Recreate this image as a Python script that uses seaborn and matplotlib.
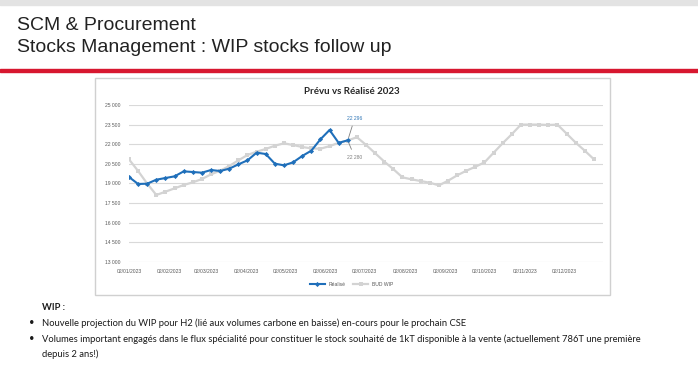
# Slide: SCM & Procurement - WIP stocks follow up (Prévu vs Réalisé 2023)

import pandas as pd
import seaborn as sns
import matplotlib.pyplot as plt
import matplotlib.dates as mdates
from matplotlib.ticker import FuncFormatter
from matplotlib.patches import Rectangle

# weekly BUD WIP (plan) and Réalisé (actual)
bud_wip = [20838, 19945, 18975, 18107, 18362, 18617, 18872, 19077, 19332, 19690,
           19970, 20328, 20762, 21170, 21426, 21630, 21885, 22064, 21936, 21783,
           21681, 21650, 21850, 22100, 22280, 22536, 21946, 21310, 20670, 20085,
           19460, 19306, 19176, 19046, 18847, 19200, 19613, 19965, 20270, 20608,
           21343, 22077, 22766, 23500, 23500, 23500, 23470, 23500, 22812, 22120,
           21500, 20847]
realise = [19485, 18950, 18975, 19281, 19409, 19536, 19919, 19868, 19817, 20021,
           19945, 20124, 20455, 20762, 21349, 21247, 20507, 20379, 20609, 21094,
           21502, 22370, 23085, 22100, 22296]
weeks = pd.date_range('2023-01-02', periods=len(bud_wip), freq='7D')
month_ticks = pd.date_range('2023-01-01', periods=12, freq='MS') + pd.Timedelta(days=1)
y_ticks = list(range(13000, 25001, 1500))

bud_df = pd.DataFrame({'date': weeks, 'value': bud_wip})
real_df = pd.DataFrame({'date': weeks[:len(realise)], 'value': realise})

W, H = 698, 372
fig = plt.figure(figsize=(W / 100, H / 100), dpi=100)

# slide decoration
fig.patches.append(Rectangle((0, 1 - 5 / H), 1, 5 / H, transform=fig.transFigure,
                             color='#e3e3e3', zorder=-5))
fig.patches.append(Rectangle((0, 1 - 72 / H), 1, 3 / H, transform=fig.transFigure,
                             color='#d7172f', zorder=-5))
fig.patches.append(Rectangle((95 / W, 1 - 295 / H), 515 / W, 217 / H,
                             transform=fig.transFigure, facecolor='white',
                             edgecolor='#d0d0d0', lw=1, zorder=-5))

fig.text(17 / W, 1 - 26 / H, 'SCM & Procurement', fontsize=14,
         family='Liberation Sans', color='#222222', va='center')
fig.text(17 / W, 1 - 47 / H, 'Stocks Management : WIP stocks follow up', fontsize=14,
         family='Liberation Sans', color='#222222', va='center')

# chart
ax = fig.add_axes([129 / W, 1 - 261.7 / H, 474 / W, 156.7 / H])
ax.set_zorder(2)
ax.patch.set_alpha(0)
sns.lineplot(data=bud_df, x='date', y='value', ax=ax, color='#d3d3d3', lw=1.6,
             marker='s', markersize=3, markeredgewidth=0, label='BUD WIP')
sns.lineplot(data=real_df, x='date', y='value', ax=ax, color='#1f6fba', lw=1.5,
             marker='D', markersize=2.6, markeredgewidth=0, label='Réalisé')

ax.set_ylim(13000, 25000)
ax.set_xlim(pd.Timestamp('2023-01-02'), pd.Timestamp('2024-01-01'))
ax.set_yticks(y_ticks)
ax.set_xticks(month_ticks)
ax.yaxis.set_major_formatter(FuncFormatter(lambda v, p: f'{int(v):,}'.replace(',', ' ')))
ax.xaxis.set_major_formatter(mdates.DateFormatter('%d/%m/%Y'))
ax.tick_params(length=0, labelsize=3.6, labelcolor='#595959')
ax.tick_params(axis='y', pad=6)
ax.tick_params(axis='x', pad=5)
for lab in ax.get_xticklabels() + ax.get_yticklabels():
    lab.set_family('Liberation Sans')
ax.grid(axis='y', color='#d9d9d9', lw=0.8)
ax.set_axisbelow(True)
for s in ax.spines.values():
    s.set_visible(False)
ax.set_xlabel('')
ax.set_ylabel('')

fig.text(352 / W, 1 - 91 / H, 'Prévu vs Réalisé 2023', fontsize=7, weight='bold',
         family='Lato', color='#262626', ha='center', va='center')

# data labels
last = weeks[len(realise) - 1]
ax.annotate('22 296', xy=(last, realise[-1]), xytext=(5, 16), textcoords='offset points',
            fontsize=3.6, color='#2e75b6', ha='center', va='center', family='Liberation Sans',
            arrowprops=dict(arrowstyle='-', color='#7f7f7f', lw=0.6))
ax.annotate('22 280', xy=(last, bud_wip[len(realise) - 1]), xytext=(5, -12),
            textcoords='offset points', fontsize=3.6, color='#7f7f7f', ha='center',
            va='center', family='Liberation Sans',
            arrowprops=dict(arrowstyle='-', color='#7f7f7f', lw=0.6))

handles, labels = ax.get_legend_handles_labels()
ax.legend(handles[::-1], labels[::-1], loc='center', bbox_to_anchor=(0.47, -0.1455),
          ncol=2, frameon=False, prop={'family': 'Liberation Sans', 'size': 3.6},
          handlelength=3, columnspacing=1.5, labelcolor='#595959')

# comments below the chart
txt = dict(fontsize=6.75, family='Lato', color='#1a1a1a', va='center')
fig.text(42 / W, 1 - 308 / H, 'WIP :', weight='bold', **txt)
fig.text(29 / W, 1 - 323 / H, '•', **txt)
fig.text(42 / W, 1 - 323 / H, 'Nouvelle projection du WIP pour H2 (lié aux volumes carbone '
         'en baisse) en-cours pour le prochain CSE', **txt)
fig.text(29 / W, 1 - 339 / H, '•', **txt)
fig.text(42 / W, 1 - 339 / H, 'Volumes important engagés dans le flux spécialité pour '
         'constituer le stock souhaité de 1kT disponible à la vente (actuellement 786T '
         'une première', **txt)
fig.text(42 / W, 1 - 354 / H, 'depuis 2 ans!)', **txt)

fig.savefig('out.png', dpi=100)
